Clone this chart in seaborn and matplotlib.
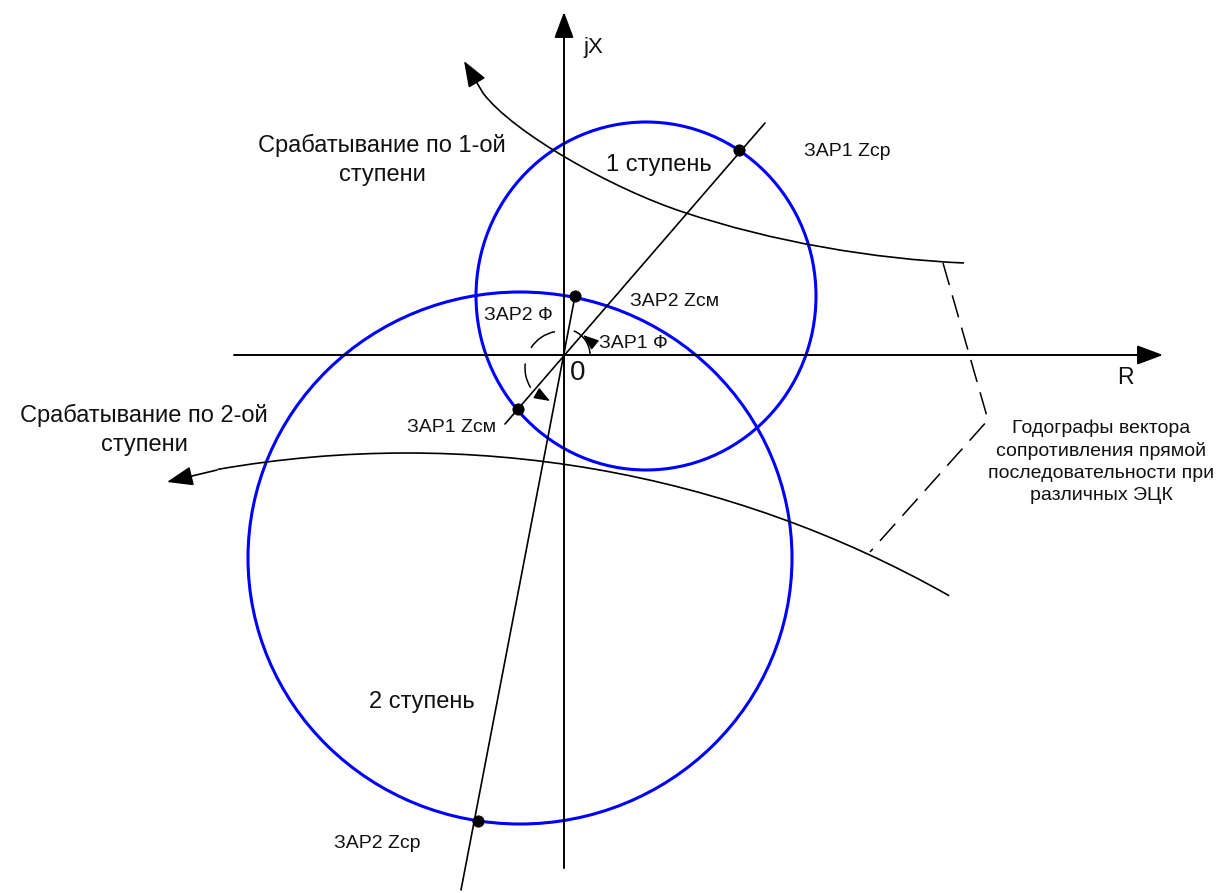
import matplotlib
matplotlib.use("Agg")
import matplotlib.pyplot as plt
from matplotlib.patches import Ellipse, Arc, PathPatch
from matplotlib.path import Path
import seaborn as sns

sns.set_theme(style="white")
plt.rcParams['font.family'] = ['Liberation Sans', 'DejaVu Sans']

# coordinates are picture pixels, y grows downward
# ---------------------------------------------------------------------------
# zone characteristics (blue circles)
zone1_center = (646, 296)
zone1_size = (340, 348)
zone2_center = (520, 558)
zone2_size = (544, 532)

# max-sensitivity lines of the two zones
line1_x = [505, 765]
line1_y = [424, 123]
line2_x = [575, 461]
line2_y = [296, 890]

# setting points: ЗАР1 Zср, ЗАР1 Zсм, ЗАР2 Zсм, ЗАР2 Zср
points_x = [739, 518, 575, 478]
points_y = [150, 409, 296, 821]

# hodograph 1: two cubic pieces (end, control, control, end, control, control, end)
hod1_x = [483, 513, 613, 683, 773, 874, 964]
hod1_y = [93, 133, 189, 212, 242, 259, 263]
hod1_tip = (464, 61)
# hodograph 2: arc of a large circle
hod2_center = (407, 1554)
hod2_radius = 1101
hod2_span = (60.5, 99.9)      # degrees, counted upward on the picture
hod2_start = (217, 470)
hod2_tip = (167, 482)

# dashed leader of the hodograph caption
leader_x = [943, 988, 870]
leader_y = [263, 420, 552]

# angle marks
phi1_center = (564, 355)
phi1_radius = 26
phi1_span = (0, 68)
phi1_head = [(594, 344), (583, 335)]
phi2_center = (562, 368)
phi2_radius = 37
phi2_spans = [(101, 147), (173, 212)]
phi2_head = [(538, 394), (550, 401)]

# axes
x_axis = [(234, 355), (1163, 355)]
y_axis = [(564, 868), (564, 12)]

labels = [
    ("jX", 593, 47, 16),
    ("R", 1125, 378, 16.5),
    ("0", 578, 373, 20),
    ("ЗАР1 Zср", 847, 152, 14),
    ("ЗАР2 Zсм", 675, 301, 14),
    ("ЗАР2 Ф", 518, 316, 14),
    ("ЗАР1 Ф", 633, 344, 14),
    ("ЗАР1 Zсм", 452, 427, 14),
    ("ЗАР2 Zср", 377, 843, 14),
    ("1 ступень", 659, 165, 17),
    ("2 ступень", 422, 702, 17),
    ("Срабатывание по 1-ой\nступени", 382, 160, 17),
    ("Срабатывание по 2-ой\nступени", 144, 430, 17),
    ("Годографы вектора\nсопротивления прямой\nпоследовательности при\nразличных ЭЦК", 1101, 462, 14),
]

BLUE = "#0000ff"
BLACK = "black"

fig = plt.figure(figsize=(12.26, 8.93), dpi=100)
ax = fig.add_axes([0, 0, 1, 1])
ax.set_xlim(0, 1226)
ax.set_ylim(893, 0)
ax.set_axis_off()

def arrow(base, tip, lw=1.1, scale=20, hl=0.8, hw=0.3):
    ax.annotate("", xy=tip, xytext=base,
                arrowprops=dict(arrowstyle=f"-|>,head_length={hl},head_width={hw}",
                                color=BLACK, lw=lw, shrinkA=0, shrinkB=0,
                                mutation_scale=scale))

# coordinate axes
arrow(x_axis[0], x_axis[1], lw=1.4)
arrow(y_axis[0], y_axis[1], lw=1.4)

# zone circles
ax.add_patch(Ellipse(zone1_center, *zone1_size, fill=False, ec=BLUE, lw=2.2))
ax.add_patch(Ellipse(zone2_center, *zone2_size, fill=False, ec=BLUE, lw=2.2))

# sensitivity lines
sns.lineplot(x=line1_x, y=line1_y, sort=False, estimator=None, color=BLACK, lw=1.2, ax=ax)
sns.lineplot(x=line2_x, y=line2_y, sort=False, estimator=None, color=BLACK, lw=1.2, ax=ax)

# hodographs
hod1_codes = [Path.MOVETO] + [Path.CURVE4] * 6
ax.add_patch(PathPatch(Path(list(zip(hod1_x, hod1_y)), hod1_codes),
                       fill=False, ec=BLACK, lw=1.2))
arrow((hod1_x[0], hod1_y[0]), hod1_tip, lw=1.2)
ax.add_patch(Arc(hod2_center, 2 * hod2_radius, 2 * hod2_radius,
                 theta1=-hod2_span[1], theta2=-hod2_span[0], color=BLACK, lw=1.2))
arrow(hod2_start, hod2_tip, lw=1.2)

# leader
ax.plot(leader_x, leader_y, color=BLACK, lw=1.1, linestyle=(0, (15, 7)))

# angle arcs (y axis is inverted, so picture angles are negated)
ax.add_patch(Arc(phi1_center, 2 * phi1_radius, 2 * phi1_radius,
                 theta1=-phi1_span[1], theta2=-phi1_span[0], color=BLACK, lw=1.1))
arrow(phi1_head[0], phi1_head[1], lw=1.0, scale=12)
for a, b in phi2_spans:
    ax.add_patch(Arc(phi2_center, 2 * phi2_radius, 2 * phi2_radius,
                     theta1=-b, theta2=-a, color=BLACK, lw=1.1))
arrow(phi2_head[0], phi2_head[1], lw=1.0, scale=12)

# setting points
sns.scatterplot(x=points_x, y=points_y, color=BLACK, s=65, edgecolor=BLACK, zorder=5, ax=ax)

for text, x, y, size in labels:
    ax.text(x, y, text, fontsize=size, ha="center", va="center",
            color="#111111", linespacing=1.38)

fig.savefig("out.png", dpi=100)
